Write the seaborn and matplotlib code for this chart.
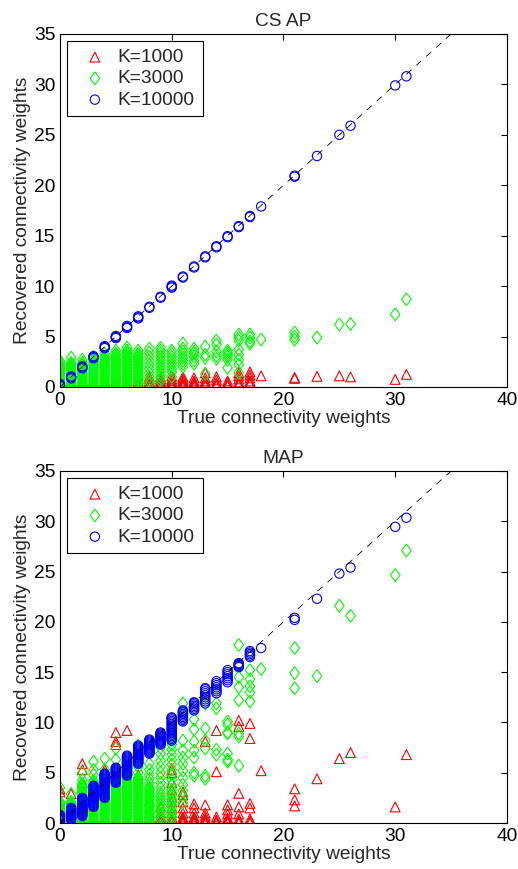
import numpy as np
import pandas as pd
import matplotlib
matplotlib.use("Agg")
import matplotlib.pyplot as plt
import seaborn as sns

# true connectivity weights that occur (one column of points for each)
true_w = [0, 1, 2, 3, 4, 5, 6, 7, 8, 9, 10, 11, 12, 13, 14, 15, 16, 17, 18,
          21, 23, 25, 26, 30, 31]

# packed low values, read as solid stacks of markers near the x axis
stack = [0.0, 0.15, 0.3, 0.45, 0.6, 0.75, 0.9, 1.05, 1.2, 1.35, 1.5, 1.65,
         1.8, 1.95, 2.1, 2.25, 2.4, 2.55, 2.7, 2.85, 3.0, 3.15, 3.3, 3.45,
         3.6, 3.75, 3.9, 4.05, 4.2, 4.35, 4.5]

# CS AP: recovered weights per true weight column
csap_k1000 = [
    [0.0, 0.15, 0.3, 0.45, 0.6], [0.0, 0.15, 0.3, 0.45, 0.6],
    [0.0, 0.15, 0.3, 0.45, 0.6], [0.0, 0.15, 0.3, 0.45, 0.6],
    [0.0, 0.15, 0.3, 0.45, 0.6], [0.0, 0.15, 0.3, 0.45, 0.6],
    [0.0, 0.15, 0.3, 0.45, 0.6], [0.0, 0.15, 0.3, 0.45, 0.6, 0.8],
    [0.0, 0.15, 0.3, 0.45, 0.6, 0.8, 1.0],
    [0.0, 0.15, 0.3, 0.45, 0.6, 0.8, 1.0],
    [0.0, 0.15, 0.3, 0.45, 0.6, 0.8, 1.1],
    [0.0, 0.15, 0.3, 0.45, 0.6, 0.8, 1.0],
    [0.0, 0.15, 0.3, 0.45, 0.6, 0.9],
    [0.1, 0.3, 0.45, 0.6, 0.9, 1.4],
    [0.1, 0.25, 0.4, 0.7, 1.0], [0.1, 0.25, 0.4, 0.6],
    [0.2, 0.35, 0.5, 0.8, 1.1, 1.4],
    [0.3, 0.45, 0.6, 0.9, 1.2, 1.5], [1.1],
    [0.85, 0.95], [1.05], [1.1], [1.0], [0.75], [1.25],
]
csap_k3000 = [
    stack[:17] + [2.6],
    stack[:17] + [2.9],
    stack[:17] + [2.7],
    stack[:19] + [3.0],
    stack[:21] + [3.3],
    stack[:23] + [3.6],
    stack[:25] + [3.9],
    stack[2:23] + [3.6],
    [0.3, 0.6, 1.0, 1.4, 1.8, 2.2, 2.6, 3.0, 3.4, 3.8],
    [0.6, 0.9, 1.2, 1.5, 1.8, 2.1, 2.4, 2.7, 3.0, 3.3, 3.6, 3.9],
    [1.0, 1.5, 1.8, 2.1, 2.4, 2.7, 3.0, 3.3, 3.6],
    [2.0, 2.3, 2.6, 2.9, 3.2, 3.5, 3.8, 4.3],
    [2.3, 2.6, 3.0, 3.3, 3.5, 3.8],
    [1.3, 2.9, 3.2, 4.0],
    [2.8, 3.1, 3.5, 4.2, 4.6],
    [1.9, 2.7, 3.0, 3.2, 3.4, 3.6],
    [1.4, 2.2, 2.7, 3.2, 3.7, 4.6, 4.9, 5.2],
    [4.3, 4.5, 4.9, 5.2],
    [4.7],
    [4.7, 5.0, 5.4], [4.9], [6.2], [6.25], [7.2], [8.7],
]
csap_k10000 = [
    [0.1, 0.2, 0.3], [0.85, 0.95, 1.05], [1.85, 1.95, 2.05],
    [2.85, 2.95, 3.05], [3.85, 3.95, 4.05], [4.85, 4.95, 5.05],
    [5.85, 5.95, 6.05], [6.8, 6.9, 7.0], [7.85, 7.95], [8.85, 8.95],
    [9.85, 9.95, 10.05], [10.85, 10.95], [11.85, 11.95], [12.85, 12.95],
    [13.85, 13.95], [14.85, 14.95], [15.85, 15.95], [16.85, 16.95],
    [17.9],
    [20.85, 20.95], [22.9], [25.0], [25.9], [29.9], [30.8],
]

# MAP: recovered weights per true weight column
map_k1000 = [
    [0.0, 0.15, 0.3, 0.45, 0.6, 1.6, 3.1, 3.4],
    [0.0, 0.15, 0.3, 0.45, 0.6, 2.9],
    [0.0, 0.15, 0.3, 0.45, 0.6, 4.0, 5.3, 5.9],
    [0.0, 0.15, 0.3, 0.45, 0.6, 3.9],
    [0.0, 0.15, 0.3, 0.45, 0.6, 5.0, 5.3],
    [0.0, 0.15, 0.3, 0.45, 0.6, 7.8, 8.1, 9.0],
    [0.0, 0.15, 0.3, 0.45, 0.6, 9.2],
    [0.0, 0.15, 0.3, 0.45, 0.6, 4.8],
    [0.0, 0.15, 0.3, 0.45, 0.6, 1.0, 1.5, 2.2],
    [0.0, 0.15, 0.3, 0.45, 0.6, 1.0, 1.6],
    [0.0, 0.15, 0.3, 0.45, 0.6, 1.0, 1.5, 2.1, 2.6, 3.3, 4.0, 5.0, 5.3],
    [0.0, 0.15, 0.3, 0.45, 0.6, 1.0, 1.5, 2.1, 2.8, 3.1],
    [0.0, 0.15, 0.3, 0.45, 0.6, 1.0, 1.5, 1.9],
    [0.0, 0.15, 0.3, 0.45, 0.7, 1.0, 1.8, 8.1],
    [0.0, 0.15, 0.3, 0.6, 5.1, 9.2],
    [0.0, 0.15, 0.3, 0.5, 0.9, 1.3, 1.8],
    [0.0, 0.2, 0.4, 0.9, 1.6, 2.95, 9.6, 10.2],
    [0.0, 0.2, 0.4, 1.5, 1.95, 8.4, 9.9],
    [5.2],
    [1.7, 2.3, 3.4], [4.4], [6.4], [7.0], [1.6], [6.8],
]
map_k3000 = [
    stack[:15] + [3.5],
    stack[:15] + [2.9],
    stack[:27] + [4.3, 5.0],
    stack[:29] + [4.8, 5.3, 6.1],
    stack[:25] + [4.2, 4.8, 5.3, 6.4],
    stack[:31] + [5.3, 6.3, 7.4],
    stack[:31] + [5.4, 6.0],
    stack[:31] + [5.0, 5.6, 6.2, 6.8, 7.7],
    stack[:25] + [4.0, 4.4, 4.8, 5.3, 5.9],
    [0.3, 0.6, 0.9, 1.2, 1.5, 1.8, 2.1, 2.4, 2.7, 3.0, 3.5, 4.0, 4.5, 5.0,
     5.6, 6.2, 6.9, 7.5, 8.2],
    [0.3, 0.6, 0.9, 1.2, 1.5, 1.8, 2.1, 2.4, 2.7, 3.0, 3.3, 3.8, 4.3, 4.8,
     5.3, 5.8, 6.3, 6.8, 7.3, 7.8, 8.3, 8.8, 9.3],
    [2.0, 2.6, 3.2, 3.8, 4.5, 5.2, 5.9, 6.5, 7.2, 8.2, 10.3, 10.9, 11.9],
    [4.7, 5.0, 6.5, 7.2, 8.1, 9.3, 10.3],
    [4.4, 4.7, 7.4, 8.2, 9.4, 11.9],
    [6.8, 7.3, 11.4, 11.9],
    [6.1, 6.3, 6.9, 8.9, 9.0, 9.8, 10.1],
    [5.7, 8.6, 8.9, 12.2, 13.5, 14.5, 17.7],
    [12.1, 13.0, 13.6, 14.3, 15.2],
    [15.3],
    [13.4, 14.9, 17.4], [14.6], [21.6], [20.6], [24.65], [27.1],
]
map_k10000 = [
    [0.2, 0.3, 0.4, 0.5, 0.6, 0.7, 0.8],
    [0.3, 0.4, 0.5, 0.6, 0.7, 0.8, 0.9, 1.0, 1.1, 1.2, 1.3, 1.4, 1.5],
    [0.7, 0.8, 0.9, 1.0, 1.1, 1.2, 1.3, 1.4, 1.5, 1.6, 1.7, 1.8, 1.9, 2.0,
     2.1, 2.2, 2.3, 2.4, 2.5],
    [1.6, 1.7, 1.8, 1.9, 2.0, 2.1, 2.2, 2.3, 2.4, 2.5, 2.6, 2.7, 2.8, 2.9,
     3.0, 3.1, 3.2, 3.3, 3.4, 3.5, 3.6, 3.7],
    [2.5, 2.6, 2.7, 2.8, 2.9, 3.0, 3.1, 3.2, 3.3, 3.4, 3.5, 3.6, 3.7, 3.8,
     3.9, 4.0, 4.1, 4.2, 4.3, 4.4, 4.5, 4.6, 4.7, 4.8, 4.9],
    [4.0, 4.1, 4.2, 4.3, 4.4, 4.5, 4.6, 4.7, 4.8, 4.9, 5.0, 5.1, 5.2, 5.3,
     5.4, 5.5],
    [4.7, 4.8, 4.9, 5.0, 5.1, 5.2, 5.3, 5.4, 5.5, 5.6, 5.7, 5.8, 5.9, 6.0,
     6.1, 6.2, 6.3, 6.4, 6.5, 6.6, 6.7],
    [5.9, 6.0, 6.1, 6.2, 6.3, 6.4, 6.5, 6.6, 6.7, 6.8, 6.9, 7.0, 7.1, 7.2,
     7.3, 7.4, 7.5, 7.6, 7.7],
    [6.9, 7.0, 7.1, 7.2, 7.3, 7.4, 7.5, 7.6, 7.7, 7.8, 7.9, 8.0, 8.1, 8.2,
     8.3],
    [7.8, 7.9, 8.0, 8.1, 8.2, 8.3, 8.4, 8.5, 8.6, 8.7, 8.8, 8.9, 9.0],
    [8.2, 8.35, 8.5, 8.65, 8.8, 8.95, 9.1, 9.25, 9.4, 9.55, 9.7, 9.85, 10.0,
     10.15, 10.3, 10.45, 10.5],
    [10.1, 10.25, 10.4, 10.55, 10.7, 10.85, 11.0, 11.1, 11.2],
    [11.2, 11.35, 11.5, 11.65, 11.8, 11.95, 12.0],
    [11.9, 12.1, 12.3, 12.5, 12.7, 12.9, 13.1, 13.3, 13.4],
    [12.9, 13.1, 13.3, 13.5, 13.7, 13.9, 14.1],
    [14.0, 14.2, 14.4, 14.6, 14.8, 15.0, 15.2],
    [15.5, 15.6, 15.7, 15.8, 15.9],
    [16.5, 16.65, 16.8, 16.95, 17.1],
    [17.4],
    [20.2, 20.4], [22.3], [24.8], [25.4], [29.45], [30.35],
]

labels = ["K=1000", "K=3000", "K=10000"]
diamond = [(0, 1), (0.75, 0), (0, -1), (-0.75, 0), (0, 1)]
markers = ["^", diamond, "o"]
colors = ["#ff0000", "#00ff00", "#0000ff"]
sizes = [50, 85, 45]


def to_frame(cols):
    xs, ys = [], []
    for w, vals in zip(true_w, cols):
        xs += [w] * len(vals)
        ys += vals
    return pd.DataFrame({"true": xs, "rec": ys})


sns.set_style("white")
plt.rcParams["font.family"] = ["Liberation Sans", "DejaVu Sans"]
plt.rcParams["font.size"] = 13.8

fig = plt.figure(figsize=(5.18, 8.69), dpi=100)
ax_top = fig.add_axes([0.1158, 0.5547, 0.8629, 0.4062])
ax_bot = fig.add_axes([0.1158, 0.0529, 0.8629, 0.4051])

panels = [
    (ax_top, "CS AP", [csap_k1000, csap_k3000, csap_k10000]),
    (ax_bot, "MAP", [map_k1000, map_k3000, map_k10000]),
]

for ax, title, series in panels:
    for cols, lab, mk, col, sz in zip(series, labels, markers, colors, sizes):
        df = to_frame(cols)
        sns.scatterplot(data=df, x="true", y="rec", marker=mk, color=col,
                        facecolor="none", edgecolor=col, s=sz,
                        linewidth=0.8, label=lab, ax=ax)
    # identity line
    ax.plot([0, 35], [0, 35], color="black", lw=0.6, linestyle=(0, (8, 8)))

    ax.set_xlim(0, 40)
    ax.set_ylim(0, 35)
    ax.set_xticks([0, 10, 20, 30, 40])
    ax.set_yticks([0, 5, 10, 15, 20, 25, 30, 35])
    ax.tick_params(direction="in", top=True, right=True, length=4,
                   width=0.8, labelsize=13.8, colors="black")
    for sp in ax.spines.values():
        sp.set_visible(True)
        sp.set_color("black")
        sp.set_linewidth(0.8)
    ax.set_title(title, fontsize=13.8, pad=6)
    ax.set_xlabel("True connectivity weights", fontsize=13.8, labelpad=1)
    ax.set_ylabel("Recovered connectivity weights", fontsize=13.8, labelpad=2)

    leg = ax.legend(loc="upper left", fontsize=13.8, frameon=True,
                    fancybox=False, edgecolor="black", framealpha=1,
                    borderaxespad=0.37, borderpad=0.4, labelspacing=0.2,
                    handlelength=2.1, handletextpad=0.15, scatterpoints=1)
    leg.get_frame().set_linewidth(0.8)

fig.savefig("out.png", dpi=100)
